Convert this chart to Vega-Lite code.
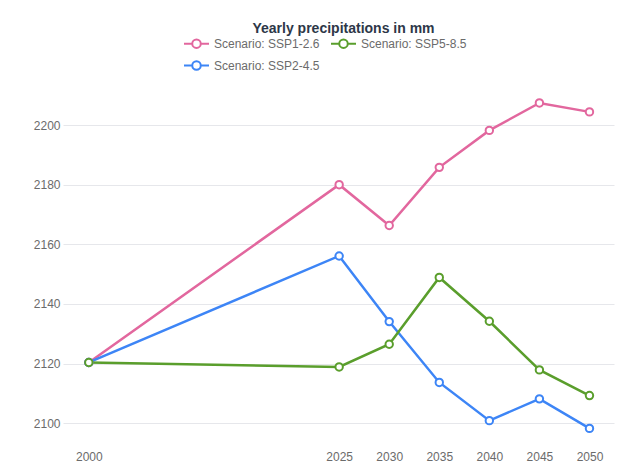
{
  "$schema": "https://vega.github.io/schema/vega-lite/v6.json",
  "autosize": "none",
  "width": 551,
  "height": 346,
  "padding": {"left": 63, "top": 95, "right": 21, "bottom": 29},
  "background": "white",
  "title": {
    "text": "Yearly precipitations in mm",
    "anchor": "middle",
    "frame": "group",
    "font": "Liberation Sans",
    "fontSize": 14,
    "fontWeight": "bold",
    "color": "#2d3748",
    "dx": 5,
    "offset": -6
  },
  "data": {
    "values": [
      {"year": 2000, "scenario": "Scenario: SSP1-2.6", "value": 2120.4},
      {"year": 2025, "scenario": "Scenario: SSP1-2.6", "value": 2180.0},
      {"year": 2030, "scenario": "Scenario: SSP1-2.6", "value": 2166.3},
      {"year": 2035, "scenario": "Scenario: SSP1-2.6", "value": 2185.8},
      {"year": 2040, "scenario": "Scenario: SSP1-2.6", "value": 2198.2},
      {"year": 2045, "scenario": "Scenario: SSP1-2.6", "value": 2207.4},
      {"year": 2050, "scenario": "Scenario: SSP1-2.6", "value": 2204.4},
      {"year": 2000, "scenario": "Scenario: SSP2-4.5", "value": 2120.4},
      {"year": 2025, "scenario": "Scenario: SSP2-4.5", "value": 2156.1},
      {"year": 2030, "scenario": "Scenario: SSP2-4.5", "value": 2134.1},
      {"year": 2035, "scenario": "Scenario: SSP2-4.5", "value": 2113.7},
      {"year": 2040, "scenario": "Scenario: SSP2-4.5", "value": 2100.9},
      {"year": 2045, "scenario": "Scenario: SSP2-4.5", "value": 2108.2},
      {"year": 2050, "scenario": "Scenario: SSP2-4.5", "value": 2098.3},
      {"year": 2000, "scenario": "Scenario: SSP5-8.5", "value": 2120.4},
      {"year": 2025, "scenario": "Scenario: SSP5-8.5", "value": 2118.9},
      {"year": 2030, "scenario": "Scenario: SSP5-8.5", "value": 2126.5},
      {"year": 2035, "scenario": "Scenario: SSP5-8.5", "value": 2148.9},
      {"year": 2040, "scenario": "Scenario: SSP5-8.5", "value": 2134.2},
      {"year": 2045, "scenario": "Scenario: SSP5-8.5", "value": 2117.9},
      {"year": 2050, "scenario": "Scenario: SSP5-8.5", "value": 2109.3}
    ]
  },
  "encoding": {
    "x": {
      "field": "year",
      "type": "quantitative",
      "scale": {"domain": [1997.42, 2052.45], "nice": false, "zero": false},
      "axis": {
        "title": null,
        "values": [2000, 2025, 2030, 2035, 2040, 2045, 2050],
        "format": "d",
        "grid": false,
        "domain": false,
        "ticks": false,
        "labelPadding": 10,
        "labelFont": "Liberation Sans",
        "labelFontSize": 12,
        "labelColor": "#6b6b6b"
      }
    },
    "y": {
      "field": "value",
      "type": "quantitative",
      "scale": {"domain": [2094.07, 2210.06], "nice": false, "zero": false},
      "axis": {
        "title": null,
        "values": [2100, 2120, 2140, 2160, 2180, 2200],
        "format": "d",
        "grid": true,
        "gridColor": "#e6e7eb",
        "gridWidth": 1,
        "domain": false,
        "ticks": false,
        "labelPadding": 3,
        "labelFont": "Liberation Sans",
        "labelFontSize": 12,
        "labelColor": "#6b6b6b"
      }
    },
    "stroke": {
      "field": "scenario",
      "type": "nominal",
      "scale": {
        "domain": ["Scenario: SSP1-2.6", "Scenario: SSP2-4.5", "Scenario: SSP5-8.5"],
        "range": ["#e2679e", "#3d85f6", "#5a9e2c"]
      },
      "legend": {
        "title": null,
        "orient": "none",
        "legendX": 120,
        "legendY": -65,
        "columns": 2,
        "columnPadding": 7,
        "rowPadding": -7,
        "labelFont": "Liberation Sans",
        "labelFontSize": 12,
        "labelColor": "#6b6b6b",
        "labelOffset": 4,
        "symbolType": "M-1,0L-0.34,0M0.34,0L1,0M-0.34,0A0.34,0.34,0,1,0,0.34,0A0.34,0.34,0,1,0,-0.34,0Z",
        "symbolSize": 625,
        "symbolStrokeWidth": 2,
        "symbolFillColor": "white",
        "padding": 0
      }
    }
  },
  "layer": [
    {"mark": {"type": "line", "strokeWidth": 2.5}},
    {"mark": {"type": "point", "shape": "circle", "filled": true, "fill": "white", "size": 55, "strokeWidth": 2, "opacity": 1}}
  ],
  "config": {"view": {"stroke": null}}
}
